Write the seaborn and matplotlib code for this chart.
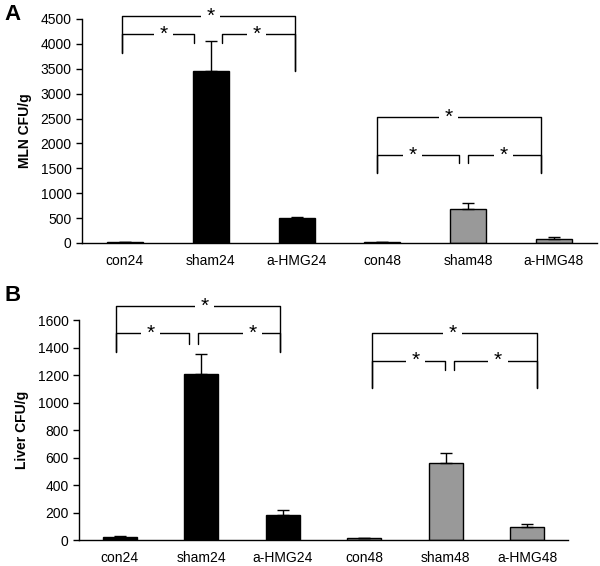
import matplotlib
import matplotlib.pyplot as plt
import numpy as np
import pandas as pd
import seaborn as sns

matplotlib.use("Agg")

groups = ['con24', 'sham24', 'a-HMG24', 'con48', 'sham48', 'a-HMG48']
bar_colors = ['black', 'black', 'black', '#999999', '#999999', '#999999']

mln_cfu = [15, 3450, 500, 10, 690, 75]
mln_err = [0, 600, 20, 0, 120, 50]

liver_cfu = [20, 1205, 185, 12, 560, 92]
liver_err = [6, 150, 33, 0, 72, 26]

# significance brackets: (x_left, x_right, y, left leg end, right leg end, star x)
mln_brackets = [
    (-0.035, 1.977, 4560, 3820, 3455, 1.0),
    (-0.035, 0.80, 4200, 3820, 4020, 0.45),
    (1.13, 1.977, 4200, 4020, 3455, 1.53),
    (2.94, 4.85, 2530, 1406, 1406, 3.77),
    (2.94, 3.895, 1768, 1406, 1607, 3.35),
    (4.0, 4.85, 1768, 1607, 1406, 4.41),
]
liver_brackets = [
    (-0.05, 1.966, 1700, 1370, 1370, 1.04),
    (-0.05, 0.853, 1503, 1370, 1425, 0.38),
    (0.956, 1.966, 1503, 1425, 1370, 1.63),
    (3.09, 5.116, 1503, 1103, 1103, 4.08),
    (3.09, 3.994, 1304, 1103, 1236, 3.63),
    (4.098, 5.116, 1304, 1236, 1103, 4.64),
]

sns.set_style('white')
plt.rcParams['font.family'] = ['Liberation Sans', 'DejaVu Sans']
plt.rcParams['text.color'] = 'black'
plt.rcParams['axes.labelcolor'] = 'black'
plt.rcParams['xtick.color'] = 'black'
plt.rcParams['ytick.color'] = 'black'


def draw_panel(ax, values, errs, brackets, ylabel, ymax, ystep):
    df = pd.DataFrame({'group': groups, 'cfu': values})
    sns.barplot(data=df, x='group', y='cfu', hue='group', palette=bar_colors,
                edgecolor='black', linewidth=1, width=0.42, legend=False, ax=ax)
    x = np.arange(len(groups))
    ax.errorbar(x, values, yerr=[np.zeros(len(errs)), errs], fmt='none',
                ecolor='black', elinewidth=1, capsize=4, capthick=1)
    for x1, x2, y, yl, yr, xs in brackets:
        ax.plot([x1, x1, x2, x2], [yl, y, y, yr], color='black', lw=1, clip_on=False)
        ax.text(xs, y, '*', ha='center', va='center', fontsize=15,
                bbox=dict(facecolor='white', edgecolor='none', pad=4), clip_on=False)
    ax.set_xlim(-0.5, len(groups) - 0.5)
    ax.set_ylim(0, ymax)
    ax.set_yticks(np.arange(0, ymax + 1, ystep))
    ax.set_xlabel('')
    ax.set_ylabel(ylabel, fontsize=10, fontweight='bold', labelpad=6)
    ax.set_xticks(x)
    ax.set_xticks(np.arange(-0.5, len(groups)), minor=True)
    ax.tick_params(axis='x', which='major', length=0, labelsize=10, pad=8)
    ax.tick_params(axis='x', which='minor', length=4, width=1, color='black', direction='out')
    ax.tick_params(axis='y', length=4, width=1, color='black', direction='out', labelsize=10, left=True)
    sns.despine(ax=ax)
    for s in ['left', 'bottom']:
        ax.spines[s].set_color('black')
        ax.spines[s].set_linewidth(1)


fig = plt.figure(figsize=(6, 5.66), dpi=100)
ax_a = fig.add_axes([0.1367, 0.5707, 0.858, 0.3958])
ax_b = fig.add_axes([0.1317, 0.0459, 0.815, 0.3887])

draw_panel(ax_a, mln_cfu, mln_err, mln_brackets, 'MLN CFU/g', 4500, 500)
draw_panel(ax_b, liver_cfu, liver_err, liver_brackets, 'Liver CFU/g', 1600, 200)

fig.text(0.008, 0.975, 'A', fontsize=16, fontweight='bold', va='center')
fig.text(0.008, 0.478, 'B', fontsize=16, fontweight='bold', va='center')

plt.savefig('out.png', dpi=100)
